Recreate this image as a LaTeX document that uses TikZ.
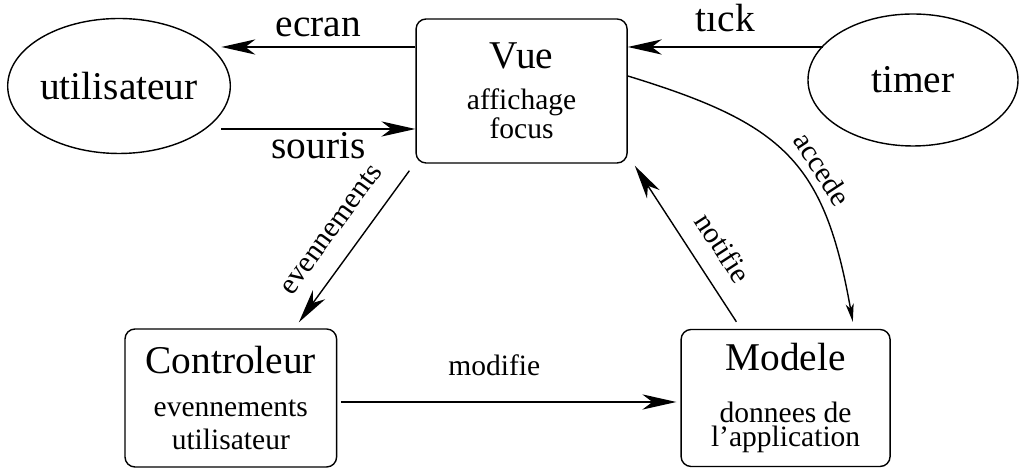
\documentclass[tikz,border=0pt]{standalone}
\usepackage{fontspec}
\setmainfont{Liberation Serif}
\usetikzlibrary{arrows.meta,shapes.geometric}
\newcommand{\grand}{\fontsize{28}{30}\selectfont}
\newcommand{\moyen}{\fontsize{21}{21}\selectfont}

\begin{document}
\begin{tikzpicture}[
  boite/.style={draw, line width=1pt, rounded corners=0.25cm, align=center, inner sep=0pt},
  acteur/.style={draw, ellipse, line width=1pt, inner sep=0pt},
  fleche/.style={line width=1pt, -{Stealth[length=0.85cm,width=0.38cm,inset=0.25cm]}},
  flechette/.style={line width=1pt, -{Stealth[length=0.45cm,width=0.2cm,inset=0.12cm]}},
  etiq/.style={inner sep=2pt}]
%\draw[step=1cm,gray,very thin] (0,0) grid (25,11); %grid lines
\useasboundingbox (0,0) rectangle (25.475,11.7);

\draw node[acteur, minimum width=5.55cm, minimum height=3.375cm, font=\grand] (util) at (2.975, 9.55) {utilisateur};
\draw node[acteur, minimum width=5.25cm, minimum height=3.3cm, font=\grand] (timer) at (22.825, 9.7) {timer};

\draw node[boite, minimum width=5.275cm, minimum height=3.6cm, font=\moyen] (vue) at (13.04, 9.425) {{\grand Vue}\\[8pt]affichage\\focus};
\draw node[boite, minimum width=5.29cm, minimum height=3.45cm, font=\moyen] (ctrl) at (5.77, 1.75) {{\grand Controleur}\\[9.6pt]evennements\\[2.5pt]utilisateur};
\draw node[boite, minimum width=5.225cm, minimum height=3.425cm, font=\moyen] (modele) at (19.64, 1.75) {{\grand Modele}\\[16pt]donnees de\\[-3.5pt]l'application};

% utilisateur <-> vue
\draw[fleche] ([yshift=1.1cm]vue.west) -- ++(-4.85,0) node[etiq, midway, above=5pt, font=\grand] (ecran) {ecran};
\draw[fleche] ([xshift=-4.85cm, yshift=-0.95cm]vue.west) -- ([yshift=-0.95cm]vue.west) node[etiq, midway, below=0pt, font=\grand] (souris) {souris};

% timer -> vue
\draw[fleche] ([xshift=4.875cm, yshift=1.1cm]vue.east) -- ([yshift=1.1cm]vue.east) node[etiq, midway, above=8pt, font=\grand] (tick) {tıck};

\draw[fleche] ([shift={(-0.15,-0.175)}]vue.south west) -- ([shift={(-0.96,0.15)}]ctrl.north east) node[etiq, midway, sloped, above=12pt, font=\moyen] (even) {evennements};
\draw[fleche] ([shift={(1.4,0.175)}]modele.north west) -- ([shift={(0.175,-0.05)}]vue.south east) node[etiq, pos=0.37, sloped, above=11pt, font=\moyen] (notifie) {notifie};
\draw[flechette] ([yshift=0.375cm]vue.east) to[out=-17, in=100, looseness=1.25] node[etiq, pos=0.6, sloped, above=4pt, font=\moyen] (accede) {accede} ([shift={(-0.95,0.175)}]modele.north east);

% controleur -> modele
\draw[fleche] ([xshift=0.09cm, yshift=-0.1cm]ctrl.east) -- ([xshift=-0.1cm, yshift=-0.1cm]modele.west) node[etiq, pos=0.457, above=15.8pt, font=\moyen] (modifie) {modifie};
\end{tikzpicture}
\end{document}
